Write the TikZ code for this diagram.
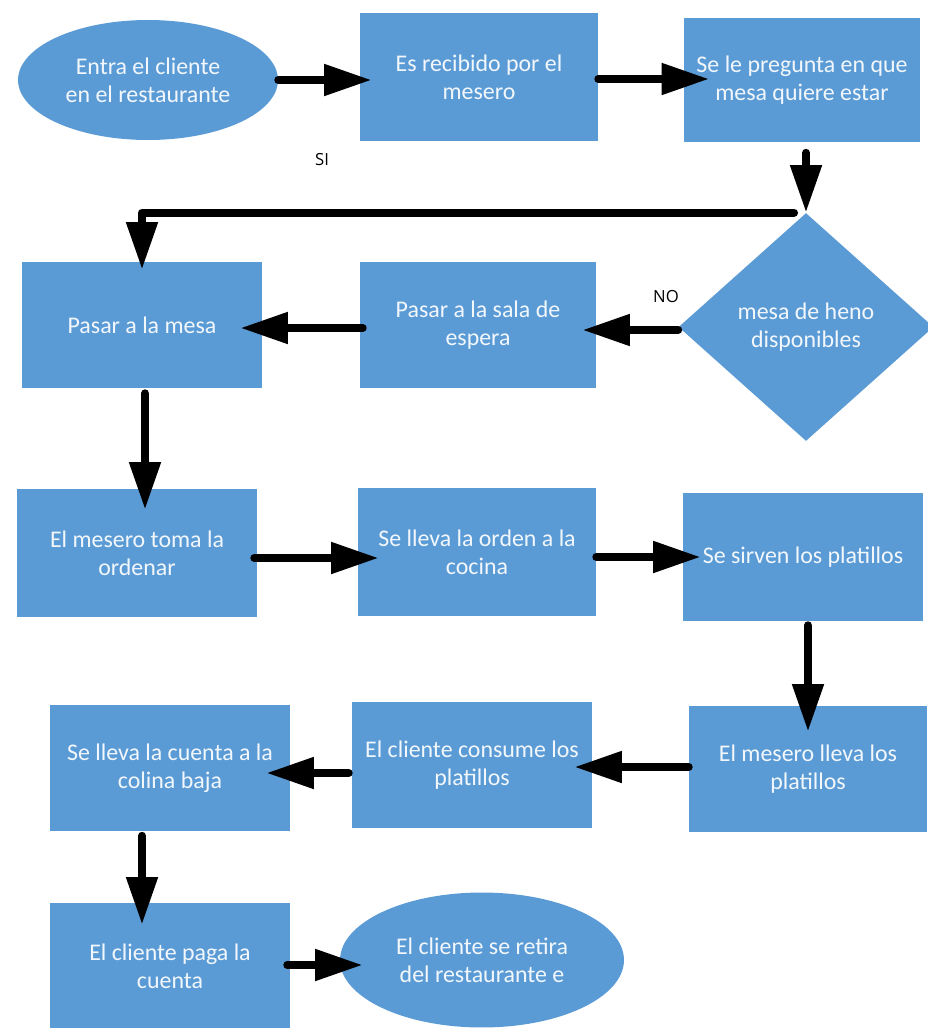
\documentclass[tikz,border=0pt]{standalone}
\usepackage{fontspec}
\setmainfont{Carlito}
\newfontfamily\labfont{Open Sans}
\usetikzlibrary{arrows.meta,calc,shapes.geometric}
\definecolor{boxblue}{RGB}{91,155,213}
\definecolor{txtcol}{RGB}{242,247,252}
\begin{document}
\begin{tikzpicture}[x=0.02cm,y=-0.02cm,
  shapebase/.style={fill=boxblue, text=txtcol, font=\fontsize{13.6}{16}\selectfont, align=center, inner sep=0pt},
  box/.style={shapebase, rectangle, minimum width=4.8cm, minimum height=2.52cm},
  oval/.style={shapebase, ellipse},
  dia/.style={shapebase, diamond, aspect=1.1, minimum width=5.1cm, minimum height=4.56cm},
  arr/.style={line width=4.6pt, line cap=round, line join=round, -{Triangle[length=27pt,width=17pt]}},
  lab/.style={font=\labfont\fontsize{9.5}{11}\selectfont, text=black}]
\useasboundingbox (0,0) rectangle (928,1028);
% nodes
\node[oval, minimum width=5.2cm, minimum height=2.4cm] (e1) at (148,80) {Entra el cliente\\ en el restaurante};
\node[box, minimum width=4.76cm, minimum height=2.56cm] (b2) at (479,77) {Es recibido por el\\ mesero};
\node[box, minimum width=4.74cm, minimum height=2.5cm] (b3) at (802,80) {Se le pregunta en que\\ mesa quiere estar};
\node[dia] (d4) at (806,327) {mesa de heno\\ disponibles};
\node[box, minimum width=4.72cm] (b5) at (478,325) {Pasar a la sala de\\ espera};
\node[box] (b6) at (142,325) {Pasar a la mesa};
\node[box, minimum height=2.56cm] (b7) at (137,553) {El mesero toma la\\ ordenar};
\node[box, minimum width=4.76cm, minimum height=2.56cm] (b8) at (477,552) {Se lleva la orden a la\\ cocina};
\node[box, minimum height=2.56cm] (b9) at (803,557) {Se sirven los platillos};
\node[box, minimum width=4.76cm] (b10) at (808,769) {El mesero lleva los\\ platillos};
\node[box] (b11) at (472,765) {El cliente consume los\\ platillos};
\node[box, minimum height=2.54cm] (b12) at (170,768) {Se lleva la cuenta a la\\ colina baja};
\node[box] (b13) at (170,966) {El cliente paga la\\ cuenta};
\node[oval, minimum width=5.68cm, minimum height=2.7cm] (e14) at (482,960) {El cliente se retira\\ del restaurante e};
% labels
\node[lab] (si) at (322,160) {SI};
\node[lab] (no) at (666,297) {NO};
% connectors
\draw[arr] (e1.east) -- ($(b2.west|-e1.east)+(12,0)$);
\draw[arr] ($(b2.east)+(0,2)$) -- ($(b3.west|-b2.east)+(26,2)$);
\draw[arr] ($(d4.north|-b3.south)+(0,10)$) -- (d4.north);
\draw[arr] ($(d4.north)+(-12,0)$) -| ($(b6.north)+(0,8)$);
\draw[arr] ($(d4.west)+(0,3)$) -- ($(b5.east|-d4.west)+(-14,3)$);
\draw[arr] ($(b5.west)+(3,3)$) -- ($(b6.east|-b5.west)+(-22,3)$);
\draw[arr] ($(b6.south)+(3,5)$) -- ($(b7.north-|b6.south)+(3,21)$);
\draw[arr] ($(b7.east)+(-3,5)$) -- ($(b8.west|-b7.east)+(21,5)$);
\draw[arr] ($(b8.east)+(0,5)$) -- ($(b9.west|-b8.east)+(18,5)$);
\draw[arr] ($(b9.south)+(5,4)$) -- ($(b10.north-|b9.south)+(5,26)$);
\draw[arr] ($(b10.west)+(0,-2)$) -- ($(b11.east|-b10.west)+(-18,-2)$);
\draw[arr] ($(b11.west)+(-3,8)$) -- ($(b12.east|-b11.west)+(-24,8)$);
\draw[arr] ($(b12.south)+(-28,4)$) -- ($(b13.north-|b12.south)+(-28,22)$);
\draw[arr] ($(b13.east)+(-3,-1)$) -- ($(e14.west|-b13.east)+(23,-1)$);
\end{tikzpicture}
\end{document}
